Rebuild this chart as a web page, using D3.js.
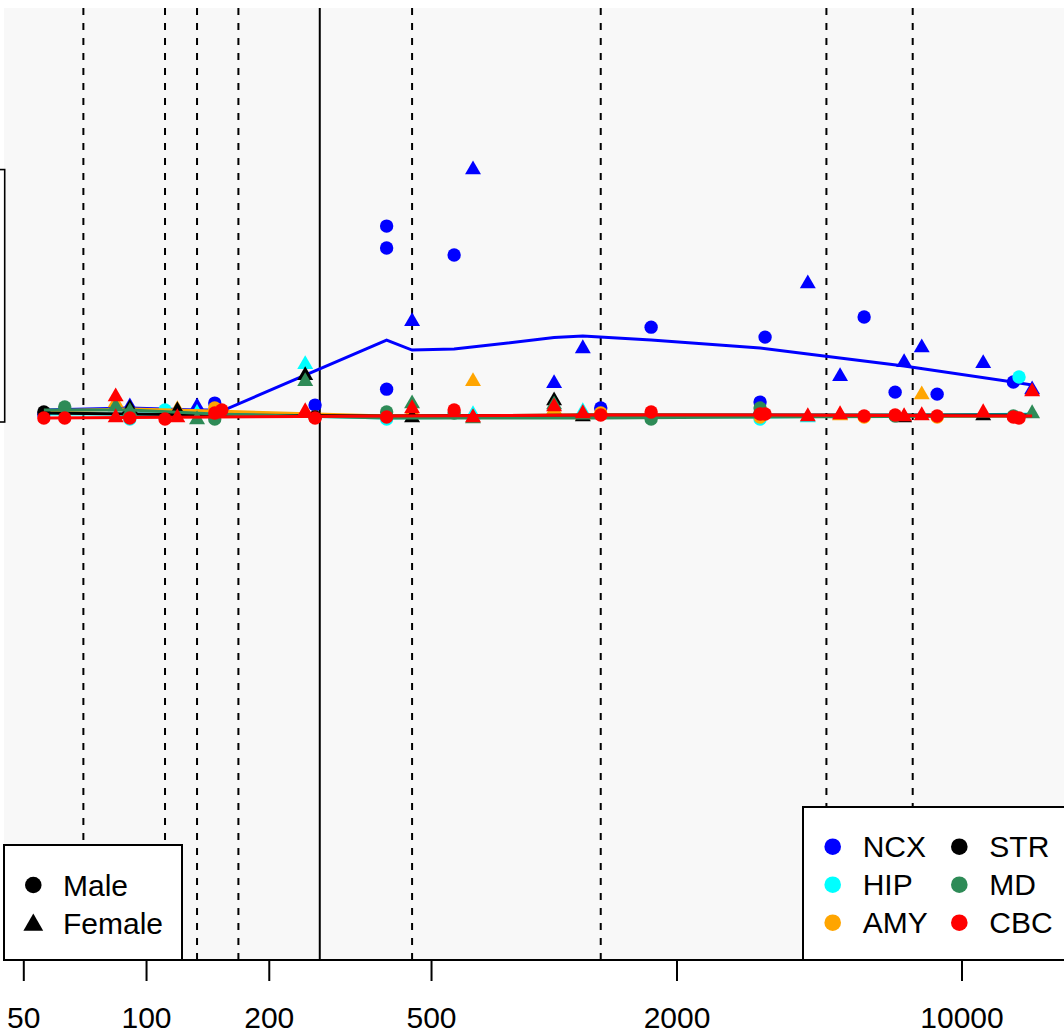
<!DOCTYPE html>
<html>
<head>
<meta charset="utf-8">
<script src="https://cdn.jsdelivr.net/npm/d3@7"></script>
<style>
  html, body { margin: 0; padding: 0; background: #fff; }
  svg { display: block; font-family: 'Liberation Sans', Arial, sans-serif; }
</style>
</head>
<body>
<svg id="chart" width="1064" height="1034"></svg>
<script>
// age in days post conception, value in % of max
const regions = ['NCX', 'HIP', 'AMY', 'STR', 'MD', 'CBC']
const colors = ['#0000ff', '#00ffff', '#ffa500', '#000000', '#2e8b57', '#ff0000']
const sexes = ['Male', 'Female']
const xTicks = [50, 100, 200, 500, 2000, 10000]
const periodBounds = [70, 111, 133, 168, 448, 1300, 4650, 7570]
const birth = 266

// [age, value, sex]
const ncxPoints = [
	[56, 1.0, 'M'], [147, 5.6, 'M'], [259, 4.8, 'M'], [388, 76.7, 'M'], [388, 67.9, 'M'], [388, 11.2, 'M'],
	[568, 65.1, 'M'], [1300, 3.6, 'M'], [1728, 36.1, 'M'], [3197, 6.0, 'M'], [3289, 32.1, 'M'], [5754, 40.2, 'M'],
	[6855, 10.0, 'M'], [8690, 9.2, 'M'], [13366, 14.1, 'M'],
	[91, 4.8, 'F'], [133, 4.8, 'F'], [448, 39.0, 'F'], [632, 100, 'F'], [999, 14.1, 'F'], [1175, 28.1, 'F'],
	[4186, 54.2, 'F'], [5023, 16.9, 'F'], [7211, 22.5, 'F'], [7966, 28.5, 'F'], [11272, 22.1, 'F'], [14859, 11.6, 'F']
]
const hipPoints = [
	[91, -0.8, 'M'], [111, 2.8, 'M'], [388, -0.8, 'M'], [3197, -0.8, 'M'], [13800, 16.1, 'M'],
	[133, 2.1, 'F'], [245, 21.7, 'F'], [448, 2.0, 'F'], [632, 1.6, 'F'], [1175, 2.8, 'F'], [4186, 0.4, 'F']
]
const amyPoints = [
	[147, 3.6, 'M'], [259, 0, 'M'], [1300, 1.6, 'M'], [3197, 0, 'M'], [5754, 0, 'M'], [8690, 0, 'M'],
	[84, 6.4, 'F'], [119, 3.6, 'F'], [448, 2.8, 'F'], [632, 14.9, 'F'], [999, 3.6, 'F'], [1175, 1.2, 'F'],
	[5023, 1.2, 'F'], [7966, 9.6, 'F']
]
const strPoints = [
	[56, 2.0, 'M'], [259, 0, 'M'], [3197, 1.6, 'M'],
	[91, 4.0, 'F'], [119, 3.2, 'F'], [245, 17.3, 'F'], [448, 0.4, 'F'], [999, 7.2, 'F'], [1175, 0.8, 'F'],
	[7211, 0.4, 'F'], [11272, 1.2, 'F']
]
const mdPoints = [
	[63, 4.0, 'M'], [147, -0.8, 'M'], [388, 2.0, 'M'], [568, 1.6, 'M'], [1728, -0.8, 'M'], [3197, 3.6, 'M'],
	[6855, 0.4, 'M'], [13366, 0.4, 'M'],
	[84, 4.8, 'F'], [91, 2.8, 'F'], [133, -0.4, 'F'], [245, 14.9, 'F'], [448, 6.0, 'F'], [632, 0, 'F'],
	[999, 5.6, 'F'], [14859, 2.0, 'F']
]
const cbcPoints = [
	[56, -0.4, 'M'], [63, -0.4, 'M'], [91, -0.4, 'M'], [111, -0.8, 'M'], [147, 1.6, 'M'], [153, 2.8, 'M'],
	[259, -0.4, 'M'], [388, 0, 'M'], [568, 2.8, 'M'], [1300, 0.8, 'M'], [1728, 2.0, 'M'], [3197, 1.2, 'M'],
	[3289, 1.2, 'M'], [5754, 0.4, 'M'], [6855, 0.8, 'M'], [8690, 0.4, 'M'], [13366, 0, 'M'], [13800, -0.4, 'M'],
	[84, 8.8, 'F'], [84, 0.4, 'F'], [119, 0.4, 'F'], [245, 2.8, 'F'], [448, 4.0, 'F'], [632, 0.4, 'F'],
	[999, 4.8, 'F'], [1175, 2.0, 'F'], [4186, 0.8, 'F'], [5023, 1.6, 'F'], [7211, 0.8, 'F'], [7966, 1.2, 'F'],
	[11272, 2.4, 'F'], [14859, 10.8, 'F']
]

// [age, fitted value]
const ncxTrend = [
	[56, 2.8], [91, 3.6], [133, 2.8], [147, 2.8], [153, 2.4], [388, 30.9], [448, 26.9], [568, 27.3],
	[999, 31.9], [1175, 32.5], [1728, 30.9], [3197, 27.7], [4186, 25.3], [7211, 20.5], [14859, 12.9]
]
const hipTrend = [[56, 1.2], [147, 1.2], [388, -0.4], [1300, 0.4], [3197, 0], [14859, 1.2]]
const amyTrend = [[56, 2.4], [91, 3.2], [147, 2.4], [388, 0.4], [1300, 0.8], [14859, 0.4]]
const strTrend = [[56, 1.6], [147, 0.8], [388, 0.4], [1300, 0.8], [14859, 0.8]]
const mdTrend = [[56, 2.8], [91, 2.8], [147, 1.2], [388, -0.4], [1300, -0.4], [3197, 0], [14859, 0.4]]
const cbcTrend = [[56, -0.4], [147, 0], [388, 0.4], [1300, 0.8], [3197, 0.8], [14859, 0.4]]

const allPoints = [ncxPoints, hipPoints, amyPoints, strPoints, mdPoints, cbcPoints]
const allTrends = [ncxTrend, hipTrend, amyTrend, strTrend, mdTrend, cbcTrend]

const plot = { left: 4, right: 1070, top: 8, bottom: 960 }
const fontSize = 30

const svg = d3.select('#chart')
const xScale = d3.scaleLog().domain([50, 10000]).range([23.8, 962])
const yScale = d3.scaleLinear().domain([-218.1, 164.3]).range([plot.bottom, plot.top])

svg.append('rect')
	.attr('x', plot.left).attr('y', plot.top)
	.attr('width', plot.right - plot.left).attr('height', plot.bottom - plot.top)
	.style('fill', '#f8f8f8')

// clipped box at the left edge
svg.append('rect')
	.attr('x', -20).attr('y', yScale(99.4))
	.attr('width', 24.7).attr('height', yScale(-2) - yScale(99.4))
	.style('fill', 'none').style('stroke', '#000').style('stroke-width', 1.6)

svg.append('g').selectAll('line').data(periodBounds)
	.enter().append('line')
	.attr('x1', d => xScale(d)).attr('x2', d => xScale(d))
	.attr('y1', plot.top).attr('y2', plot.bottom)
	.style('stroke', '#000').style('stroke-width', 2).style('stroke-dasharray', '7,8')

svg.append('line')
	.attr('x1', xScale(birth)).attr('x2', xScale(birth))
	.attr('y1', plot.top).attr('y2', plot.bottom)
	.style('stroke', '#000').style('stroke-width', 2)

const triangle = d3.symbol().type(d3.symbolTriangle)
const line = d3.line().x(d => xScale(d[0])).y(d => yScale(d[1]))

allPoints.forEach((points, i) => {
	const g = svg.append('g')
	g.selectAll('circle').data(points.filter(d => d[2] === 'M'))
		.enter().append('circle')
		.attr('cx', d => xScale(d[0])).attr('cy', d => yScale(d[1])).attr('r', 6.7)
		.style('fill', colors[i])
	g.selectAll('path.tri').data(points.filter(d => d[2] === 'F'))
		.enter().append('path').attr('class', 'tri')
		.attr('d', triangle.size(110))
		.attr('transform', d => `translate(${xScale(d[0])},${yScale(d[1]) + 1.5})`)
		.style('fill', colors[i])
	g.append('path').datum(allTrends[i])
		.attr('d', line)
		.style('fill', 'none').style('stroke', colors[i]).style('stroke-width', 3)
})

// x axis
const axisY = plot.bottom
svg.append('line')
	.attr('x1', plot.left).attr('x2', plot.right).attr('y1', axisY).attr('y2', axisY)
	.style('stroke', '#000').style('stroke-width', 2)
const ticks = svg.append('g').selectAll('g').data(xTicks).enter().append('g')
ticks.append('line')
	.attr('x1', d => xScale(d)).attr('x2', d => xScale(d))
	.attr('y1', axisY).attr('y2', axisY + 21)
	.style('stroke', '#000').style('stroke-width', 2)
ticks.append('text')
	.attr('x', d => xScale(d)).attr('y', 1028)
	.style('text-anchor', 'middle').style('font-size', fontSize + 'px')
	.text(d => d)

// sex legend
const sexLegend = svg.append('g')
sexLegend.append('rect')
	.attr('x', 4).attr('y', 845).attr('width', 178).attr('height', 115)
	.style('fill', '#fff').style('stroke', '#000').style('stroke-width', 2)
sexLegend.append('circle').attr('cx', 33.3).attr('cy', 885).attr('r', 8.3).style('fill', '#000')
sexLegend.append('path').attr('d', triangle.size(170))
	.attr('transform', 'translate(33.3,925)').style('fill', '#000')
sexLegend.selectAll('text').data(sexes).enter().append('text')
	.attr('x', 63).attr('y', (d, i) => 885 + i * 38).attr('dy', '0.35em')
	.style('font-size', fontSize + 'px')
	.text(d => d)

// region legend
const regionLegend = svg.append('g')
regionLegend.append('rect')
	.attr('x', 803).attr('y', 807).attr('width', 280).attr('height', 153)
	.style('fill', '#fff').style('stroke', '#000').style('stroke-width', 2)
const items = regionLegend.selectAll('g').data(regions).enter().append('g')
	.attr('transform', (d, i) => `translate(${i < 3 ? 832.7 : 959.3},${846.7 + (i % 3) * 38})`)
items.append('circle').attr('r', 8.3).style('fill', (d, i) => colors[i])
items.append('text').attr('x', 30).attr('dy', '0.35em')
	.style('font-size', fontSize + 'px')
	.text(d => d)
</script>
</body>
</html>
